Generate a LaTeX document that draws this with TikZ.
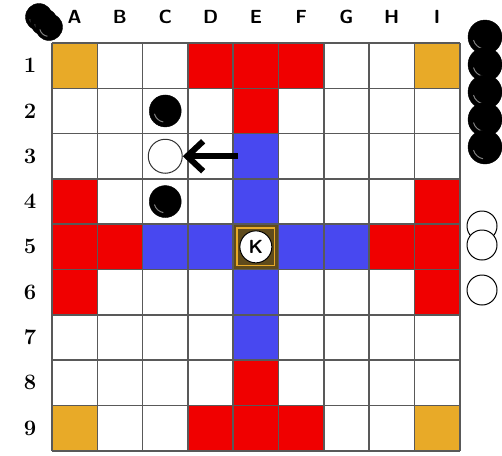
\documentclass[tikz,border=0pt]{standalone}
\usepackage{tikz}
\usetikzlibrary{arrows.meta}
\definecolor{corner}{RGB}{232,170,40}
\definecolor{hostile}{RGB}{240,0,0}
\definecolor{route}{RGB}{72,72,240}
\definecolor{throne}{RGB}{95,75,28}
\newcommand\sq{45.3}

\begin{document}
\begin{tikzpicture}[x=1pt,y=-1pt,>=Latex,
  sqr/.style={draw=black!75,line width=0.8pt},
  gridline/.style={draw=gray!70!black,line width=1.6pt},
  lbl/.style={font=\fontsize{19}{19}\selectfont\bfseries\sffamily},
  num/.style={font=\fontsize{22}{22}\selectfont\bfseries},
  blk/.style={circle,fill=black,draw=black,minimum size=32pt,inner sep=0pt,
    path picture={\draw[black!50,line width=1pt] ([shift={(195:0.7*\pgfkeysvalueof{/pgf/minimum width}/2)}]path picture bounding box.center)
      arc[start angle=195,end angle=260,radius=0.7*\pgfkeysvalueof{/pgf/minimum width}/2];}},
  wht/.style={circle,fill=white,draw=black,line width=1pt,minimum size=32pt,inner sep=0pt},
  arr/.style={-{Straight Barb[length=16pt,width=30pt]},line width=6pt}]
\useasboundingbox (0,0) rectangle (502,455);
\fill[white] (0,0) rectangle (502,455);
% coloured squares
\foreach \c/\r/\k in {1/1/corner,9/1/corner,1/9/corner,9/9/corner,
    4/1/hostile,5/1/hostile,6/1/hostile,5/2/hostile,1/4/hostile,9/4/hostile,
    1/5/hostile,2/5/hostile,8/5/hostile,9/5/hostile,1/6/hostile,9/6/hostile,
    5/8/hostile,4/9/hostile,5/9/hostile,6/9/hostile,
    5/3/route,5/4/route,3/5/route,4/5/route,6/5/route,7/5/route,5/6/route,5/7/route,
    5/5/throne}
  \filldraw[\k,sqr] ({52+(\c-1)*\sq},{43+(\r-1)*\sq}) rectangle ++(\sq,\sq);
\draw[corner,line width=1.5pt] ({52+4*\sq+4},{43+4*\sq+4}) rectangle ++({\sq-8},{\sq-8});
% grid
\foreach \i in {0,...,9} {
  \draw[gridline] ({52+\i*\sq},43) -- ({52+\i*\sq},{43+9*\sq});
  \draw[gridline] (52,{43+\i*\sq}) -- ({52+9*\sq},{43+\i*\sq});
}
% labels
\foreach \l [count=\i] in {A,B,C,D,E,F,G,H,I}
  \node[lbl] (col\l) at ({52+(\i-0.5)*\sq},17) {\l};
\foreach \i in {1,...,9}
  \node[num] (row\i) at (30,{43+(\i-0.5)*\sq}) {\i};
% pieces on the board
\node[blk] (c2) at ({52+2.5*\sq},{43+1.5*\sq}) {};
\node[wht,minimum size=34pt,draw=black!80] (c3) at ({52+2.5*\sq},{43+2.5*\sq}) {};
\node[blk] (c4) at ({52+2.5*\sq},{43+3.5*\sq}) {};
\node[wht,minimum size=32pt,font=\fontsize{19}{19}\selectfont\bfseries\sffamily] (king) at ({52+4.5*\sq},{43+4.5*\sq}) {K};
\coordinate (from) at (238,{43+2.5*\sq});
\draw[arr] (from) -- (c3);
% captured pieces
\foreach \p [count=\n] in {(39,17),(44,22),(49,27)}
  \node[blk,minimum size=27pt] (capa\n) at \p {};
\foreach \y [count=\n] in {37,64.5,92,119.5,147}
  \node[blk,minimum size=34pt] (capb\n) at (485,\y) {};
\foreach \y [count=\n] in {226,245,290}
  \node[wht,minimum size=30pt] (capw\n) at (482,\y) {};
\end{tikzpicture}
\end{document}
